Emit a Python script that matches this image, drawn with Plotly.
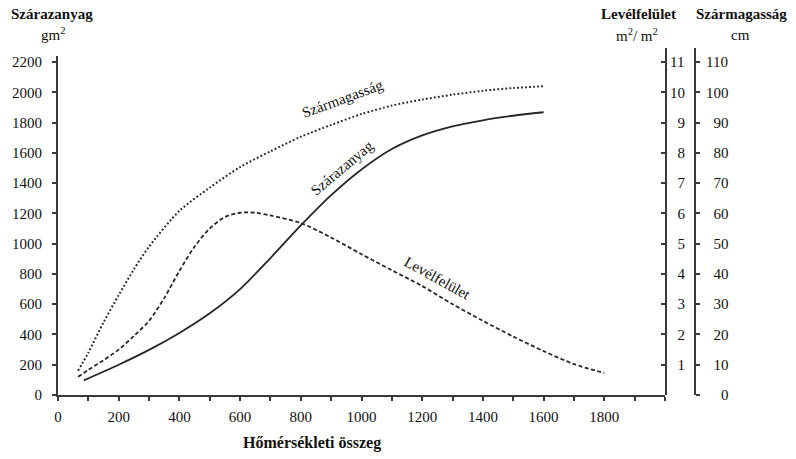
import plotly.graph_objects as go

# ---- data ----
x_dm = [85, 200, 300, 400, 500, 600, 700, 800, 900, 1000, 1100, 1200, 1300, 1400, 1500, 1600]
dry_matter = [97, 200, 298, 410, 540, 700, 905, 1120, 1320, 1490, 1625, 1715, 1775, 1815, 1845, 1868]

x_lai = [66, 100, 150, 200, 250, 300, 350, 400, 450, 500, 550, 600, 650, 700, 800, 900, 1000, 1100,
         1200, 1300, 1400, 1500, 1600, 1700, 1800]
leaf_area = [0.6, 0.83, 1.15, 1.5, 1.95, 2.45, 3.2, 4.1, 4.9, 5.5, 5.88, 6.02, 6.02, 5.93, 5.68,
             5.2, 4.65, 4.12, 3.6, 3.0, 2.45, 1.93, 1.45, 1.02, 0.73]

x_h = [66, 100, 150, 200, 250, 300, 400, 500, 600, 700, 800, 900, 1000, 1100, 1200, 1300, 1400,
       1500, 1600]
stem_height = [8, 14, 24, 33, 41.5, 49, 60.8, 68.5, 75.3, 80.5, 85.3, 89.2, 92.8, 95.6, 97.6, 99.2,
               100.5, 101.4, 102]

x_tickvals = list(range(0, 2001, 100))
x_ticktext = [str(v) if (v % 200 == 0 and v < 2000) else " " for v in x_tickvals]
y_tickvals = list(range(0, 2201, 200))
lai_tickvals = list(range(1, 12))
lai_ticktext = [("\u2007" + str(v)) if v < 10 else str(v) for v in lai_tickvals]
h_tickvals = list(range(0, 111, 10))
h_ticktext = [("\u2007" * (3 - len(str(v)))) + str(v) for v in h_tickvals]

FONT = "Liberation Serif, Times New Roman, serif"
INK = "#262626"
AX = "#3a3a3a"

# layout geometry
W, H = 796, 459
L, R, T, B = 58, 96, 48, 64
pw, ph = W - L - R, H - T - B
X_RIGHT = 665            # pixel where the x range ends (first right axis)
Y3_PX = 695              # pixel of the second right axis
px_per_unit = 333 / 2200
left_top = 2240
left_dom_top = left_top * px_per_unit / ph
right_top = ph / px_per_unit / 200


def pxx(px):
    return (px - L) / pw


def pxy(py):
    return (H - B - py) / ph


x_dom_end = pxx(X_RIGHT)

fig = go.Figure()
fig.add_trace(go.Scatter(x=x_dm, y=dry_matter, mode="lines", name="Szárazanyag",
                         line=dict(color=INK, width=1.8, shape="spline", smoothing=0.8),
                         yaxis="y"))
fig.add_trace(go.Scatter(x=x_lai, y=leaf_area, mode="lines", name="Levélfelület",
                         line=dict(color=INK, width=1.8, dash="4px,2.5px", shape="spline",
                                   smoothing=0.8),
                         yaxis="y2"))
fig.add_trace(go.Scatter(x=x_h, y=stem_height, mode="lines", name="Szármagasság",
                         line=dict(color=INK, width=2, dash="1.8px,2.2px", shape="spline",
                                   smoothing=0.8),
                         yaxis="y3"))

tickfont = dict(family=FONT, size=15, color="#111")
common = dict(showgrid=False, zeroline=False, automargin=False, tickwidth=1.5, tickcolor=AX,
              tickmode="array")

fig.update_layout(
    width=W, height=H,
    margin=dict(l=L, r=R, t=T, b=B, autoexpand=False),
    paper_bgcolor="white", plot_bgcolor="rgba(0,0,0,0)",
    showlegend=False,
    font=dict(family=FONT, size=15, color="#111"),
    xaxis=dict(range=[0, 2000], domain=[0, x_dom_end], anchor="y",
               tickvals=x_tickvals, ticktext=x_ticktext, ticks="outside", ticklen=4,
               showline=True, linecolor=AX, linewidth=2, tickfont=tickfont,
               ticklabelstandoff=3, **common),
    xaxis2=dict(range=[0, 2000], overlaying="x", anchor="y", side="bottom",
                tickvals=x_tickvals, ticks="inside", ticklen=4,
                showticklabels=False, showline=False, **common),
    yaxis=dict(range=[0, left_top], domain=[0, left_dom_top], anchor="x", side="left",
               tickvals=y_tickvals, ticks="outside", ticklen=4,
               showline=True, linecolor=AX, linewidth=2, tickfont=tickfont,
               ticklabelstandoff=7, **common),
    yaxis4=dict(range=[0, left_top], overlaying="y", anchor="x", side="left",
                tickvals=y_tickvals, ticks="inside", ticklen=4,
                showticklabels=False, showline=False, **common),
    # first right axis (leaf area): inside ticks keep labels close to the line
    yaxis2=dict(range=[0, right_top], domain=[0, 1], anchor="x", side="right",
                tickvals=lai_tickvals, ticktext=lai_ticktext, ticks="inside", ticklen=4,
                showline=True, linecolor=AX, linewidth=2, tickfont=tickfont, **common),
    yaxis5=dict(range=[0, right_top], overlaying="y2", anchor="x", side="right",
                tickvals=lai_tickvals, ticks="outside", ticklen=4,
                showticklabels=False, showline=False, **common),
    # second right axis (stem height)
    yaxis3=dict(range=[0, right_top * 10], overlaying="y2", anchor="free",
                position=pxx(Y3_PX), side="right", tickvals=h_tickvals,
                ticktext=h_ticktext, ticks="outside", ticklen=4,
                showline=True, linecolor=AX, linewidth=2, tickfont=tickfont,
                ticklabelstandoff=3, **common),
    yaxis6=dict(range=[0, right_top * 10], overlaying="y2", anchor="free",
                position=pxx(Y3_PX), side="right", tickvals=h_tickvals,
                ticks="inside", ticklen=4,
                showticklabels=False, showline=False, **common),
)

ann = [
    ("<b>Szárazanyag</b>", 52, 14, 15),
    ("gm<sup>2</sup>", 53, 34, 15),
    ("<b>Levélfelület</b>", 638, 14, 15),
    ("m<sup>2</sup>/ m<sup>2</sup>", 637, 35, 15),
    ("<b>Szármagasság</b>", 741, 14, 15),
    ("cm", 740, 35, 15),
    ("<b>Hőmérsékleti összeg</b>", 312, 443, 16),
]
for text, px, py, size in ann:
    fig.add_annotation(text=text, xref="paper", yref="paper", x=pxx(px), y=pxy(py),
                       xanchor="center", yanchor="middle", showarrow=False,
                       font=dict(family=FONT, size=size, color="#111"))

curve_labels = [
    ("Szármagasság", 342, 99, -20),
    ("Szárazanyag", 342, 168, -40),
    ("Levélfelület", 437, 278, 29),
]
for text, px, py, ang in curve_labels:
    fig.add_annotation(text=text, xref="paper", yref="paper", x=pxx(px), y=pxy(py),
                       xanchor="center", yanchor="middle", showarrow=False, textangle=ang,
                       font=dict(family=FONT, size=15, color="#111"))

fig.write_html("out.html", config={"displayModeBar": False},
               post_script="document.body.style.margin='0px';"
                           "document.body.style.overflow='hidden';")
